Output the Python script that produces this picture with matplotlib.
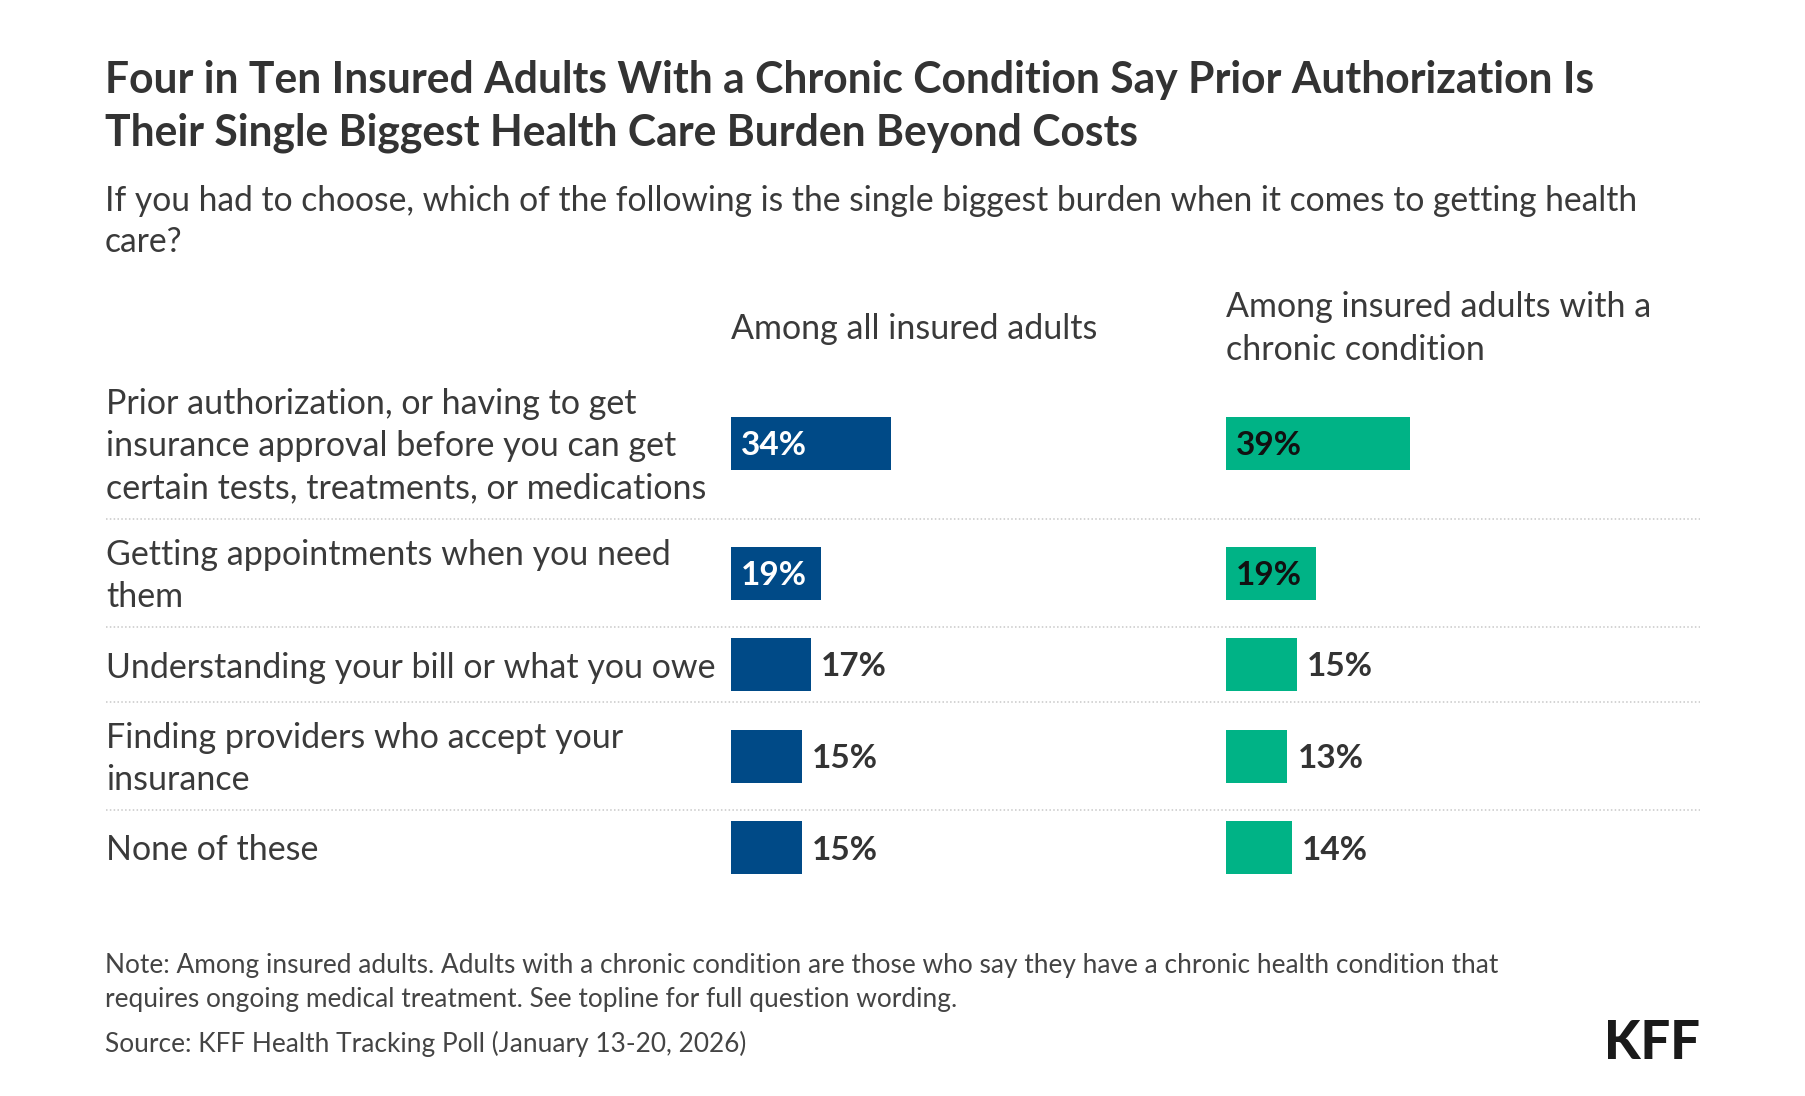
import numpy as np
import matplotlib
matplotlib.use("Agg")
import matplotlib.pyplot as plt

# data
labels = [
    "Prior authorization, or having to get\ninsurance approval before you can get\ncertain tests, treatments, or medications",
    "Getting appointments when you need\nthem",
    "Understanding your bill or what you owe",
    "Finding providers who accept your\ninsurance",
    "None of these",
]
all_insured = [34, 19, 17, 15, 15]
chronic = [39, 19, 15, 13, 14]

headers = ["Among all insured adults", "Among insured adults with a\nchronic condition"]
title_lines = [
    "Four in Ten Insured Adults With a Chronic Condition Say Prior Authorization Is",
    "Their Single Biggest Health Care Burden Beyond Costs",
]
subtitle_lines = [
    "If you had to choose, which of the following is the single biggest burden when it comes to getting health",
    "care?",
]
note_lines = [
    "Note: Among insured adults. Adults with a chronic condition are those who say they have a chronic health condition that",
    "requires ongoing medical treatment. See topline for full question wording.",
]
source = "Source: KFF Health Tracking Poll (January 13-20, 2026)"

BLUE = "#004a87"
GREEN = "#00b386"
TXT = "#333333"
FONT = "Lato"

W, H = 1806, 1096
fig = plt.figure(figsize=(W / 100, H / 100), dpi=100, facecolor="white")
renderer = fig.canvas.get_renderer()

# background axes in pixel coords for text + separators
base = fig.add_axes([0, 0, 1, 1], zorder=0)
base.set_xlim(0, W)
base.set_ylim(H, 0)
base.axis("off")


def fit(s, width_px, weight="normal", start=20.0):
    t = base.text(0, 0, s, fontsize=start, fontweight=weight, family=FONT)
    w = t.get_window_extent(renderer).width
    t.remove()
    return start * width_px / w


title_fs = fit(title_lines[0], 1490, "bold")
sub_fs = fit(subtitle_lines[0], 1538)
label_fs = fit("certain tests, treatments, or medications", 602)
val_fs = fit("34%", 66, "bold")
note_fs = fit(note_lines[0], 1388)


def put(x, y, s, fs, weight="normal", color=TXT, ha="left"):
    base.text(x, y, s, fontsize=fs, fontweight=weight, color=color,
              family=FONT, ha=ha, va="center_baseline")


LEFT = 105
COL1, COL2 = 731, 1226
RIGHT = 1700

# title / subtitle
for i, s in enumerate(title_lines):
    put(LEFT, 77 + i * 52, s, title_fs, "bold")
for i, s in enumerate(subtitle_lines):
    put(LEFT, 198 + i * 41, s, sub_fs, color="#3a3a3a")

# column headers
put(COL1, 326, headers[0], label_fs, color="#3a3a3a")
for i, s in enumerate(headers[1].split("\n")):
    put(COL2, 304 + i * 43, s, label_fs, color="#3a3a3a")

# row layout: taller rows for wrapped labels
n_lines = [len(s.split("\n")) for s in labels]
row_h = np.array([{1: 75, 2: 108, 3: 152}[n] for n in n_lines])
top = 367
edges = top + np.concatenate([[0], np.cumsum(row_h)])
centers = (edges[:-1] + edges[1:]) / 2
bottom = edges[-1]

for c, s in zip(centers, labels):
    parts = s.split("\n")
    for i, p in enumerate(parts):
        put(LEFT + 1, c + (i - (len(parts) - 1) / 2) * 42.5, p, label_fs, color="#3a3a3a")

for e in edges[1:-1]:
    base.plot([LEFT + 1, RIGHT], [e, e], color="#c8c8c8", lw=1.1, ls=(0, (1, 1.5)))

# bar panels, 4.72 px per percentage point
px_per = 4.72
span = 100
for x0, vals, col, inside_col in [(COL1, all_insured, BLUE, "white"),
                                  (COL2, chronic, GREEN, "#111111")]:
    ax = fig.add_axes([x0 / W, 1 - bottom / H, span * px_per / W, (bottom - top) / H],
                      zorder=1)
    ax.set_xlim(0, span)
    ax.set_ylim(bottom, top)
    ax.patch.set_alpha(0)
    ax.axis("off")
    ax.barh(centers, vals, height=53, color=col, edgecolor="none")
    for c, v in zip(centers, vals):
        if v > 18:
            ax.text(10 / px_per, c, f"{v}%", fontsize=val_fs, fontweight="bold",
                    color=inside_col, family=FONT, va="center_baseline")
        else:
            ax.text(v + 10 / px_per, c, f"{v}%", fontsize=val_fs, fontweight="bold",
                    color=TXT, family=FONT, va="center_baseline")

# notes
for i, s in enumerate(note_lines):
    put(LEFT, 963 + i * 34, s, note_fs, color="#444444")
put(LEFT, 1041, source, note_fs, color="#444444")

kff_fs = fit("KFF", 96, "black")
base.text(RIGHT, 1039, "KFF", fontsize=kff_fs, fontweight="black", color="#1a1a1a",
          family=FONT, ha="right", va="center_baseline")

fig.savefig("out.png", dpi=100, facecolor="white")
